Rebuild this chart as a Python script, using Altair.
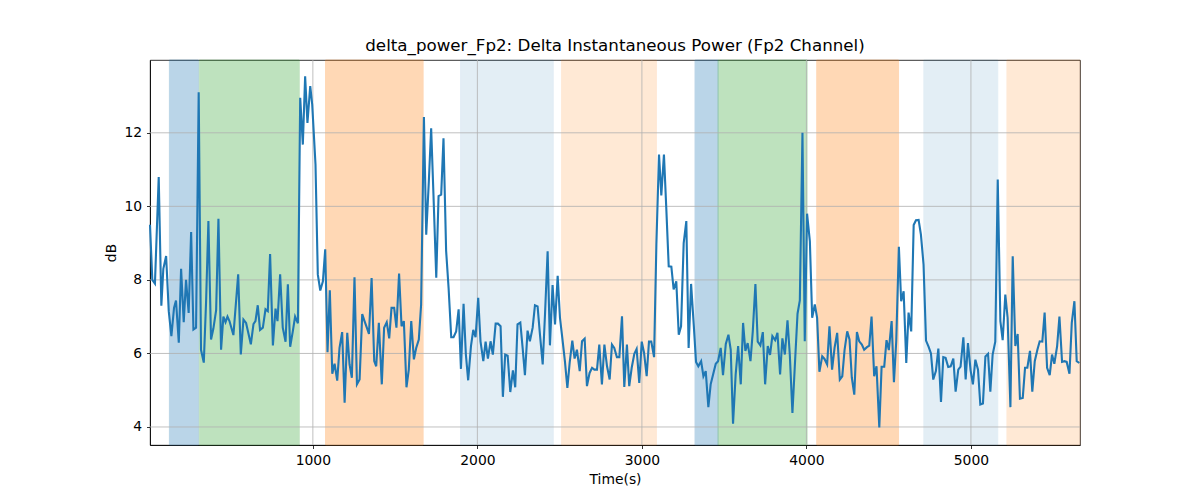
import altair as alt
import pandas as pd

# signal: time (s) and power (dB)
time_s = [
    10, 24, 40, 63, 79, 91, 108, 124, 140, 156, 168, 185, 199, 215, 229, 245,
    260, 274, 290, 306, 320, 337, 351, 365, 381, 395, 412, 426, 442, 456, 469,
    481, 493, 517, 546, 562, 578, 594, 623, 639, 651, 665, 679, 696, 712, 726,
    740, 757, 773, 785, 801, 817, 834, 848, 862, 878, 892, 909, 923, 939, 953,
    967, 984, 996, 1016, 1030, 1045, 1061, 1075, 1089, 1103, 1118, 1132, 1148,
    1162, 1178, 1193, 1209, 1223, 1237, 1253, 1268, 1284, 1300, 1314, 1328,
    1341, 1357, 1373, 1385, 1401,
    1419, 1433, 1449, 1464, 1478, 1494, 1508, 1524, 1539, 1553, 1569, 1583,
    1598, 1614, 1628, 1644, 1658, 1675, 1689, 1705, 1719, 1733, 1750, 1764,
    1780, 1794, 1810, 1825, 1841, 1855, 1871, 1886, 1900, 1916, 1930, 1944,
    1961, 1975, 1989, 2005, 2019, 2036, 2050, 2064, 2080, 2094, 2111, 2125,
    2141, 2155, 2169, 2184, 2200, 2216, 2230, 2244, 2261, 2275, 2289, 2305,
    2319, 2336, 2350, 2366, 2380, 2397, 2411, 2427, 2441, 2457, 2472, 2488,
    2502, 2516, 2532, 2547, 2561, 2577, 2591, 2605, 2622, 2636, 2652, 2666,
    2682, 2697, 2711, 2727, 2741, 2757, 2772, 2788, 2804,
    2818, 2832, 2848, 2863, 2879, 2893, 2909, 2923, 2938, 2954, 2968, 2984,
    2999, 3013, 3029, 3043, 3057, 3074, 3088, 3104, 3118, 3134, 3149, 3163,
    3179, 3193, 3209, 3224, 3238, 3254, 3270, 3284, 3299, 3315, 3329, 3343,
    3360, 3374, 3388, 3404, 3418, 3435, 3449, 3463, 3479, 3493, 3510, 3526,
    3540, 3554, 3570, 3585, 3601, 3615, 3629, 3643, 3660, 3674, 3690, 3704,
    3720, 3735, 3749, 3765, 3779, 3793, 3810, 3824, 3840, 3854, 3869, 3885,
    3899, 3915, 3929, 3946, 3960, 3976, 3990, 4004, 4021, 4035, 4051, 4065,
    4079, 4096, 4110, 4126, 4140, 4156, 4171, 4187, 4203,
    4218, 4232, 4248, 4262, 4276, 4291, 4307, 4321, 4337, 4351, 4368, 4382,
    4396, 4412, 4426, 4443, 4457, 4473, 4487, 4501, 4518, 4532, 4546, 4562,
    4576, 4591, 4607, 4621, 4637, 4652, 4666, 4682, 4696, 4712, 4727, 4743,
    4757, 4771, 4787, 4802, 4818, 4832, 4846, 4862, 4877, 4893, 4907, 4923,
    4937, 4954, 4968, 4982, 4998, 5012, 5027, 5043, 5057, 5073, 5088, 5104,
    5118, 5132, 5148, 5163, 5179, 5193, 5209, 5223, 5240, 5254, 5270, 5284,
    5298, 5315, 5329, 5343, 5359, 5373, 5388, 5404, 5418, 5434, 5448, 5463,
    5479, 5493, 5507, 5524, 5538, 5554, 5568, 5582, 5599, 5613, 5629, 5643,
    5659,
]
db = [
    9.5, 8.0, 7.9, 10.8, 7.3, 8.3, 8.65, 7.15, 6.47, 7.24, 7.44, 6.29, 8.3,
    6.85, 8.0, 7.1, 9.3, 6.65, 6.7, 13.1, 6.1, 5.75, 7.42, 9.6, 6.38, 6.67,
    7.18, 9.66, 6.1, 7.0, 6.85, 7.0, 6.88, 6.5, 8.15, 5.97, 6.92, 6.83, 6.25,
    6.8, 6.88, 7.31, 6.64, 6.7, 7.2, 7.15, 8.7, 6.22, 7.22, 6.88, 8.15, 6.7,
    6.32, 7.88, 6.18, 6.6, 7.0, 6.82, 12.95, 11.68, 13.54, 12.27, 13.27, 12.77,
    11.14, 8.15, 7.71, 7.96, 8.83, 6.03, 7.72, 5.45, 5.72, 5.26, 6.15, 6.58,
    4.66, 6.56, 5.7, 5.34, 8.07, 5.16, 5.29, 7.07, 6.88, 6.7, 6.53, 8.05, 5.79,
    5.65, 6.83,
    5.16, 6.7, 6.85, 6.41, 7.24, 7.24, 6.7, 8.17, 6.74, 6.88, 5.08, 5.56, 6.88,
    5.84, 6.15, 6.38, 7.33, 12.43, 9.23, 10.69, 12.12, 10.32, 8.06, 10.28,
    10.32, 11.85, 8.79, 7.78, 6.44, 6.44, 6.6, 7.2, 5.58, 7.35, 5.97, 5.27,
    6.2, 6.64, 6.44, 7.51, 6.33, 5.79, 6.32, 5.86, 6.33, 5.97, 6.81, 6.81,
    6.74, 4.82, 5.97, 5.94, 4.95, 5.54, 5.08, 6.79, 6.84, 6.15, 5.41, 6.62,
    6.33, 6.7, 7.31, 7.28, 6.53, 5.7, 7.06, 8.78, 6.22, 7.86, 6.79, 8.11,
    6.97, 6.43, 5.79, 5.06, 5.75, 6.35, 5.86, 6.1, 5.52, 6.33, 6.4, 5.11,
    5.47, 5.61, 5.56, 5.56, 6.24, 5.16, 6.24, 5.65, 5.29,
    6.24, 6.15, 5.9, 5.9, 7.01, 5.09, 6.24, 5.11, 5.61, 5.99, 6.12, 5.2,
    6.32, 6.02, 5.38, 6.32, 6.32, 5.9, 8.96, 11.41, 10.3, 11.41, 9.87, 8.37,
    8.36, 7.74, 7.96, 6.51, 6.74, 9.0, 9.6, 6.15, 7.89, 6.79, 5.77, 5.65,
    5.79, 5.38, 5.52, 4.54, 5.16, 5.47, 5.72, 5.79, 6.15, 5.41, 6.26, 6.51,
    6.1, 4.09, 5.43, 6.2, 5.16, 6.83, 6.07, 6.28, 5.79, 6.6, 7.89, 6.32,
    6.22, 6.58, 5.16, 6.2, 5.96, 6.47, 6.36, 6.56, 5.43, 6.41, 5.97, 6.9,
    5.97, 4.38, 5.61, 7.08, 7.44, 12.0, 6.33, 9.8, 9.05, 6.97, 7.33, 6.97,
    5.5, 5.92, 5.85, 5.7, 6.74, 5.56, 6.15, 6.56, 5.29,
    5.38, 6.1, 6.6, 6.38, 5.34, 4.88, 6.58, 6.33, 6.24, 6.1, 6.17, 6.21,
    7.0, 5.38, 5.65, 3.99, 5.64, 5.64, 6.36, 6.09, 6.88, 5.22, 6.33, 8.9,
    7.42, 7.69, 5.74, 7.11, 6.6, 9.49, 9.62, 9.63, 9.23, 8.42, 6.35, 6.18,
    6.0, 5.29, 5.52, 6.13, 4.68, 5.9, 5.88, 5.63, 5.65, 5.86, 4.96, 5.56,
    5.64, 6.44, 5.29, 6.28, 5.54, 5.16, 5.83, 5.56, 4.61, 4.64, 5.92, 5.99,
    4.96, 5.97, 6.32, 10.73, 6.88, 6.36, 7.6, 6.97, 4.54, 8.64, 6.2, 6.53,
    4.77, 4.79, 5.61, 5.61, 6.07, 4.96, 5.79, 6.1, 6.33, 6.32, 7.11, 5.61,
    5.41, 5.97, 5.72, 6.2, 7.0, 5.77, 5.79, 5.77, 5.45, 6.83, 7.42, 5.79,
    5.74,
]

# shaded intervals
span_start = [128, 310, 1077, 1898, 2512, 3323, 3463, 4063, 4714, 5219]
span_end = [304, 917, 1670, 2461, 3088, 3463, 4004, 4560, 5163, 5663]
span_kind = ["A", "B", "C", "D", "E", "A", "B", "C", "D", "E"]

x_ticks = [1000, 2000, 3000, 4000, 5000]
y_ticks = [4, 6, 8, 10, 12]

df = pd.DataFrame({"Time": time_s, "dB": db})
spans = pd.DataFrame({"start": span_start, "end": span_end, "kind": span_kind})

W, H = 930, 385
x_scale = alt.Scale(domain=[10, 5663], nice=False, zero=False)
y_scale = alt.Scale(domain=[3.51, 13.98], nice=False, zero=False)
x_axis = alt.Axis(values=x_ticks, format="d")
y_axis = alt.Axis(values=y_ticks, format="d")

kinds = ["A", "B", "C", "D", "E"]
kind_colors = alt.Scale(domain=kinds,
                        range=["#1f77b4", "#2ca02c", "#ff7f0e", "#1f77b4", "#ff7f0e"])


def shade(which, alpha):
    return alt.Chart(spans).transform_filter(
        alt.FieldOneOfPredicate(field="kind", oneOf=which)
    ).mark_rect(strokeWidth=1, opacity=alpha).encode(
        x=alt.X("start:Q", scale=x_scale, axis=x_axis, title="Time(s)"),
        x2="end:Q",
        y=alt.value(0),
        y2=alt.value(H),
        color=alt.Color("kind:N", legend=None, scale=kind_colors),
        stroke=alt.Stroke("kind:N", legend=None, scale=kind_colors),
    )


vgrid = alt.Chart(pd.DataFrame({"t": x_ticks})).mark_rule(color="#b0b0b0", strokeWidth=0.8).encode(
    x=alt.X("t:Q", scale=x_scale, axis=x_axis, title="Time(s)")
)
hgrid = alt.Chart(pd.DataFrame({"v": y_ticks})).mark_rule(color="#b0b0b0", strokeWidth=0.8).encode(
    y=alt.Y("v:Q", scale=y_scale, axis=y_axis, title="dB")
)

line = alt.Chart(df).mark_line(color="#1f77b4", strokeWidth=2.1).encode(
    x=alt.X("Time:Q", scale=x_scale, axis=x_axis, title="Time(s)"),
    y=alt.Y("dB:Q", scale=y_scale, axis=y_axis, title="dB"),
)

chart = alt.layer(
    shade(["A", "B", "C"], 0.3), shade(["D"], 0.12), shade(["E"], 0.17),
    vgrid, hgrid, line,
).properties(
    width=W,
    height=H,
    autosize=alt.AutoSizeParams(type="none"),
    padding={"left": 142, "top": 52, "right": 112, "bottom": 47},
    title=alt.TitleParams(
        "delta_power_Fp2: Delta Instantaneous Power (Fp2 Channel)",
        font="DejaVu Sans", fontSize=16.7, fontWeight="normal", color="black",
        anchor="middle", frame="group", offset=5,
    ),
).configure_axis(
    labelFont="DejaVu Sans", labelFontSize=13.9, labelColor="black",
    titleFont="DejaVu Sans", titleFontSize=13.9, titleFontWeight="normal", titleColor="black",
    tickColor="black", tickSize=3.5, tickWidth=0.8,
    domainColor="black", domainWidth=0.8, grid=False,
    labelPadding=4.9, titlePadding=5.6,
).configure_view(stroke="black", strokeWidth=0.8)

chart.save("out.html", embed_options={"renderer": "svg", "actions": False})
